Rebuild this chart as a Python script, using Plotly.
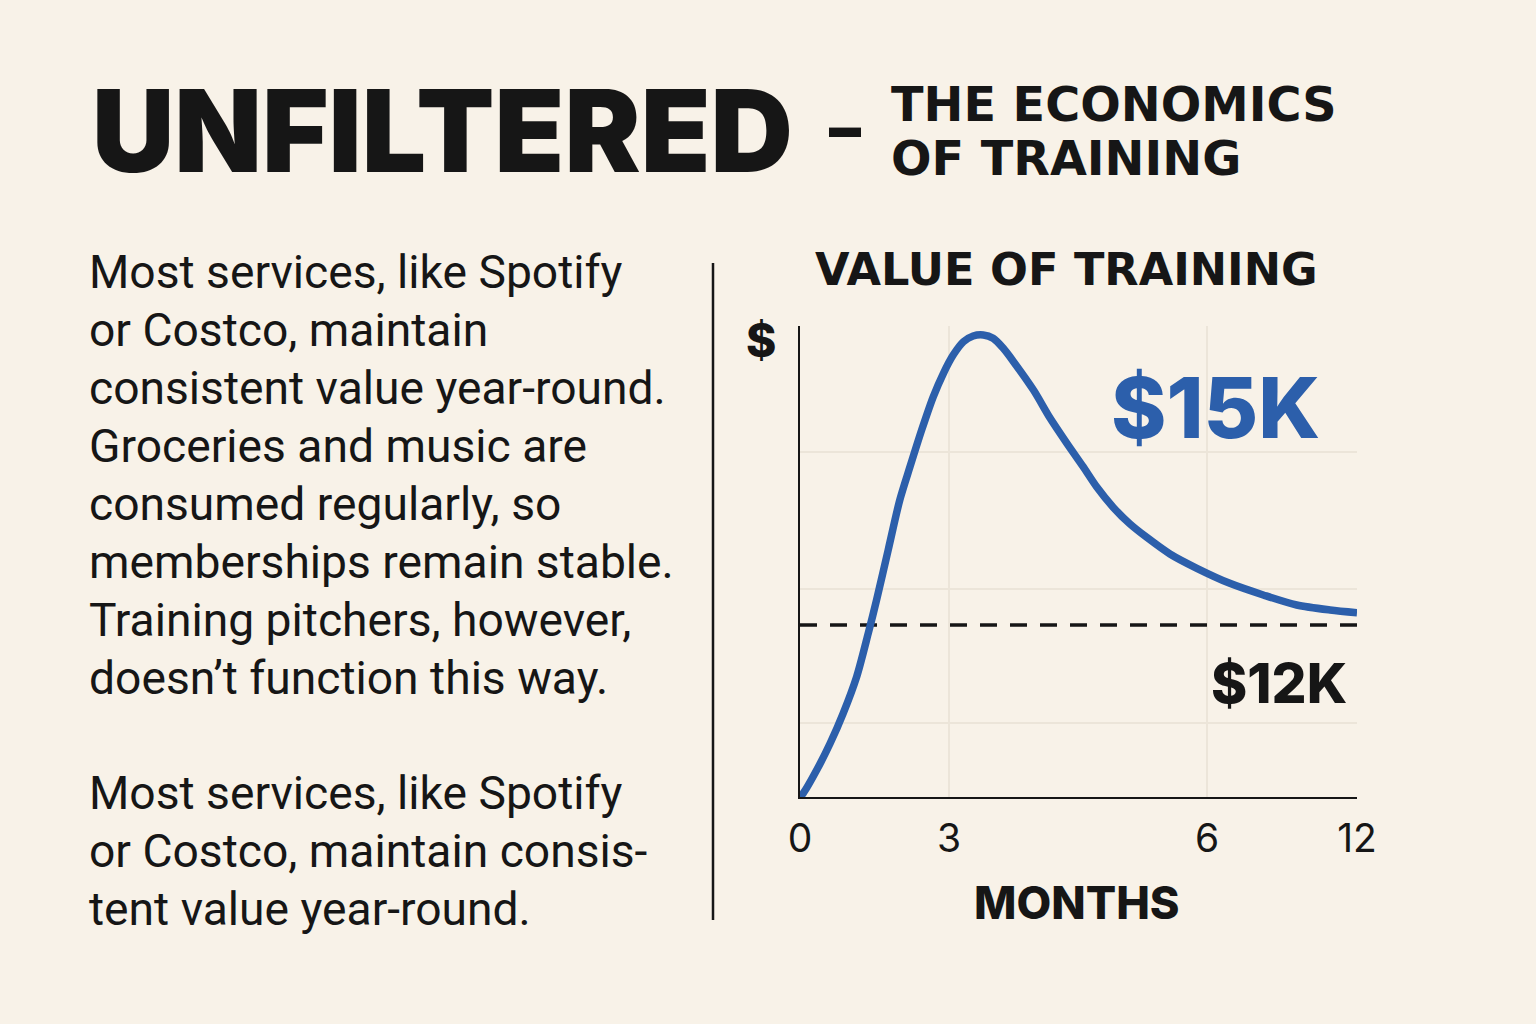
import plotly.graph_objects as go

# value-of-training curve (x on the drawn month scale, y in axis units)
curve_x = [0.0, 0.07, 0.36, 0.65, 0.93, 1.22, 1.47, 1.65, 1.90, 2.15, 2.37, 2.62, 2.87, 3.09,
           3.30, 3.52, 3.73, 3.95, 4.16, 4.38, 4.60, 5.03, 5.39, 5.75, 6.10, 6.39, 6.75, 7.11,
           7.47, 7.97, 8.55, 9.26, 9.98, 10.70, 11.42, 12.0]
curve_y = [0.0, 0.26, 1.88, 3.75, 5.84, 8.39, 11.42, 13.75, 17.24, 20.73, 23.05, 25.60, 27.93, 29.57,
           30.84, 31.77, 32.17, 32.24, 32.01, 31.31, 30.38, 28.40, 26.43, 24.68, 23.05, 21.65, 20.21, 19.05,
           18.12, 16.96, 15.96, 14.91, 14.10, 13.40, 13.05, 12.86]

baseline_value = 12.0
month_labels = ["0", "3", "6", "12"]
month_positions = [0, 3.21, 8.77, 12]
grid_y = [5.16, 14.52, 24.08]

body_lines = [
    "Most services, like Spotify",
    "or Costco, maintain",
    "consistent value year-round.",
    "Groceries and music are",
    "consumed regularly, so",
    "memberships remain stable.",
    "Training pitchers, however,",
    "doesn\u2019t function this way.",
]
body_lines_2 = [
    "Most services, like Spotify",
    "or Costco, maintain consis-",
    "tent value year-round.",
]

BG = "#f8f2e8"
INK = "#161616"
BLUE = "#2c5fab"
GRID = "#ece5d9"
FONT = "Inter"
WIDE = "DejaVu Sans"

W, H = 1536, 1024


def px(x):
    return x / W


def py(y):
    return 1 - y / H


fig = go.Figure()

fig.add_trace(go.Scatter(
    x=[0, 12], y=[baseline_value, baseline_value], mode="lines",
    line=dict(color=INK, width=3.5, dash="17px,13px"), hoverinfo="skip"
))
fig.add_trace(go.Scatter(
    x=curve_x, y=curve_y, mode="lines",
    line=dict(color=BLUE, width=7.5, shape="spline", smoothing=0.8), hoverinfo="skip"
))

fig.update_xaxes(
    domain=[px(800), px(1357)], range=[0, 12], automargin=False,
    tickvals=month_positions, ticktext=month_labels, ticks="",
    tickfont=dict(family=FONT, size=39, color=INK), ticklabelstandoff=6,
    showgrid=True, gridcolor=GRID, gridwidth=2,
    showline=True, linecolor=INK, linewidth=2, zeroline=False,
)
fig.update_yaxes(
    domain=[py(797), py(326)], range=[0, 32.87], automargin=False,
    tickvals=grid_y, showticklabels=False, ticks="",
    showgrid=True, gridcolor=GRID, gridwidth=2,
    showline=True, linecolor=INK, linewidth=2, zeroline=False,
)

ann = []
# headline
ann.append(dict(x=px(90), y=py(130), text="UNFILTERED", xanchor="left", yanchor="middle",
                font=dict(family=FONT, size=114, color=INK, weight=900)))
ann.append(dict(x=px(845), y=py(127), text="\u2013", xanchor="center", yanchor="middle",
                font=dict(family=FONT, size=64, color=INK, weight=900)))
ann.append(dict(x=px(889), y=py(104), text="THE ECONOMICS", xanchor="left", yanchor="middle",
                font=dict(family=WIDE, size=47.7, color=INK, weight="bold")))
ann.append(dict(x=px(889), y=py(158), text="OF TRAINING", xanchor="left", yanchor="middle",
                font=dict(family=WIDE, size=47.7, color=INK, weight="bold")))

# body text
for i, line in enumerate(body_lines):
    ann.append(dict(x=px(87), y=py(272 + 58 * i), text=line, xanchor="left", yanchor="middle",
                    font=dict(family="Roboto", size=46.2, color=INK)))
for i, line in enumerate(body_lines_2):
    ann.append(dict(x=px(87), y=py(793 + 58 * i), text=line, xanchor="left", yanchor="middle",
                    font=dict(family="Roboto", size=46.2, color=INK)))

# chart labels
ann.append(dict(x=px(1066), y=py(270), text="VALUE OF TRAINING", xanchor="center", yanchor="middle",
                font=dict(family=WIDE, size=44.6, color=INK, weight="bold")))
ann.append(dict(x=px(761), y=py(340), text="$", xanchor="center", yanchor="middle",
                font=dict(family=FONT, size=46, color=INK, weight=800)))
ann.append(dict(x=px(1215), y=py(407), text="$15K", xanchor="center", yanchor="middle",
                font=dict(family=FONT, size=84, color=BLUE, weight=800)))
ann.append(dict(x=px(1279), y=py(683), text="$12K", xanchor="center", yanchor="middle",
                font=dict(family=FONT, size=55, color=INK, weight=800)))
ann.append(dict(x=px(1077), y=py(902), text="MONTHS", xanchor="center", yanchor="middle",
                font=dict(family=FONT, size=45, color=INK, weight=800)))

for a in ann:
    a.update(xref="paper", yref="paper", showarrow=False)

fig.update_layout(
    width=W, height=H,
    paper_bgcolor=BG, plot_bgcolor=BG,
    margin=dict(l=0, r=0, t=0, b=0, autoexpand=False),
    showlegend=False,
    annotations=ann,
    shapes=[dict(type="line", xref="paper", yref="paper",
                 x0=px(713), x1=px(713), y0=py(263), y1=py(920),
                 line=dict(color=INK, width=2.5))],
)

fig.write_html("out.html", config={"displayModeBar": False},
               post_script="document.body.style.margin='0';document.body.style.overflow='hidden';")
